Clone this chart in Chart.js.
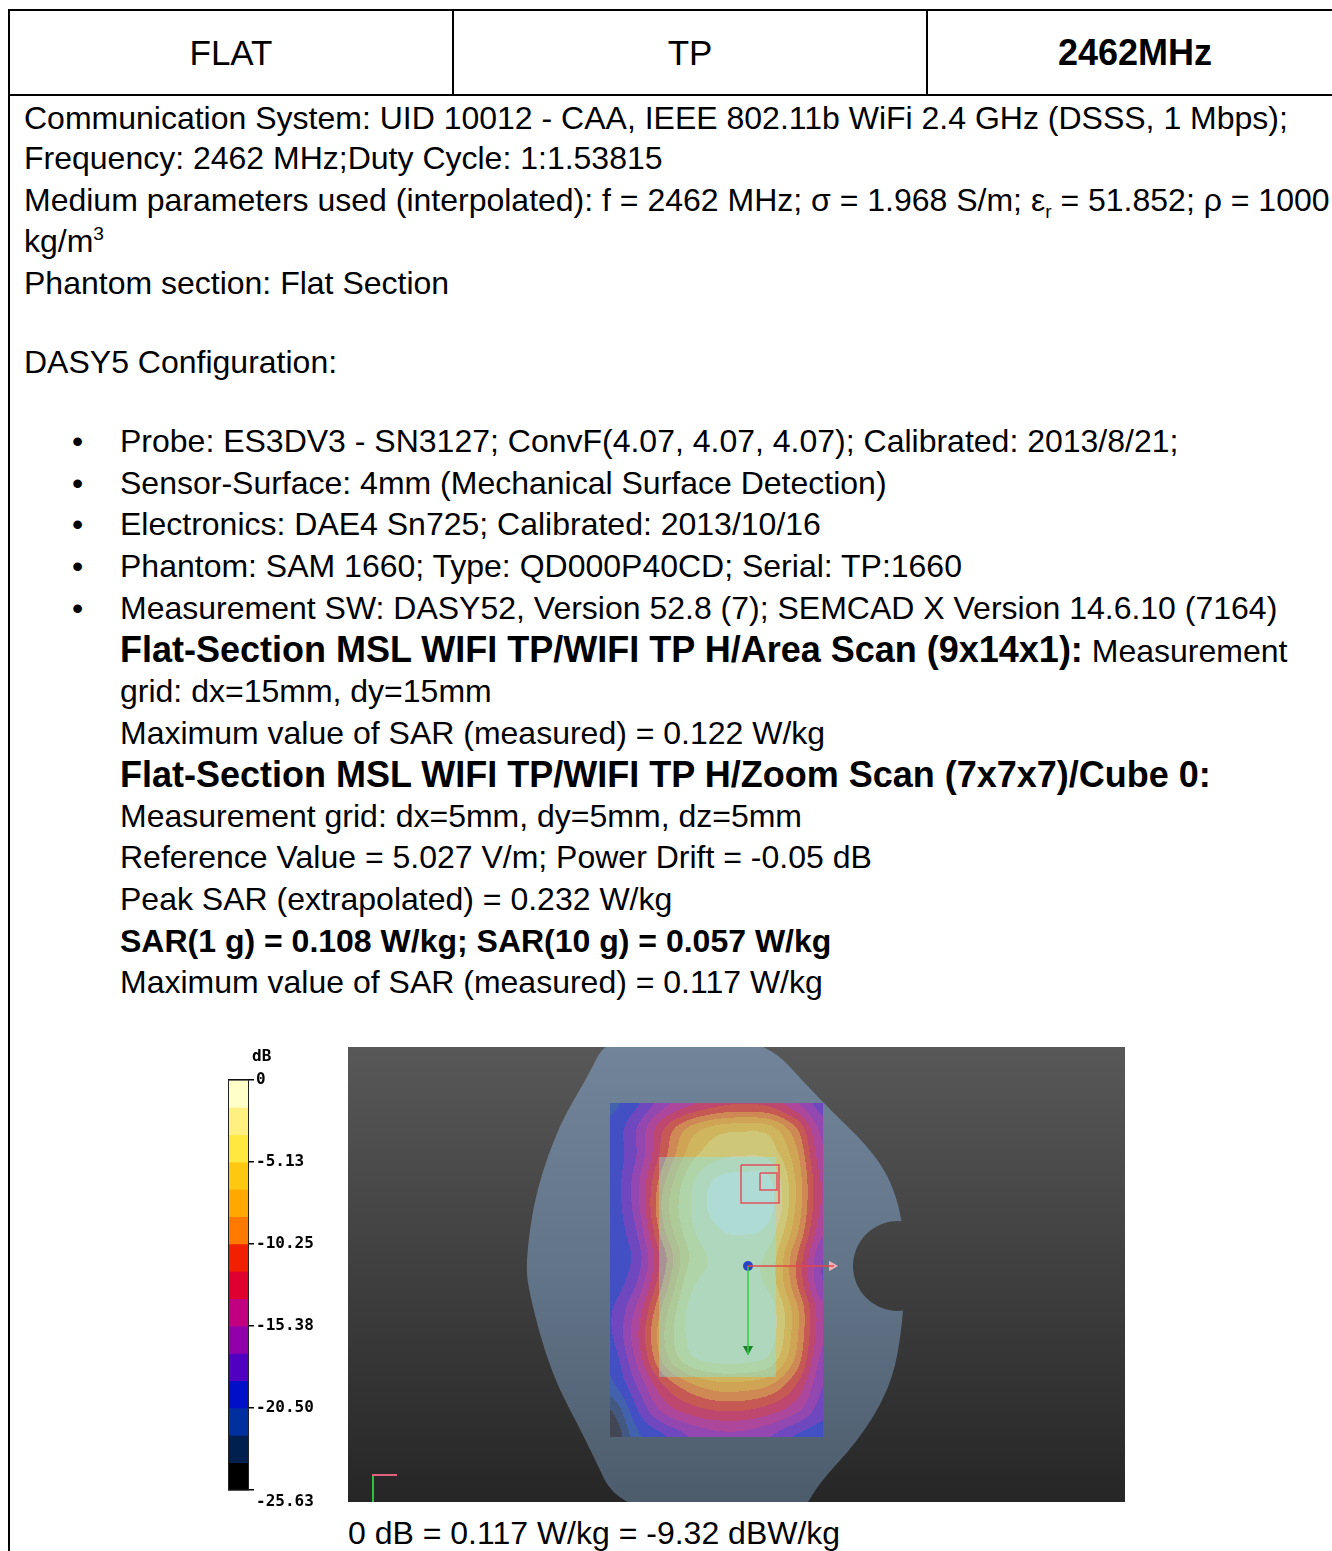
<!DOCTYPE html>
<html>
<head>
<meta charset="utf-8">
<script src="https://cdn.jsdelivr.net/npm/chart.js@4.4.0/dist/chart.umd.min.js"></script>
<style>
body { margin:0; background:#fff; width:1332px; height:1551px; overflow:hidden; position:relative; font-family:"Liberation Sans", Arial, sans-serif; color:#000; }
.ln { position:absolute; white-space:nowrap; font-size:32px; line-height:42px; }
.b { font-weight:bold; }
.big { font-size:36px; }
.rule { position:absolute; background:#000; }
.hd { position:absolute; top:10px; height:85px; line-height:85px; text-align:center; font-size:35px; }
sub, sup { font-size:60%; line-height:0; }
#scaleBox { position:absolute; left:218px; top:1040px; width:110px; height:475px; }
#scanBox { position:absolute; left:348px; top:1047px; width:777px; height:455px; }
</style>
</head>
<body>
<!-- table frame -->
<div class="rule" style="left:8px;top:9px;width:1324px;height:2px"></div>
<div class="rule" style="left:8px;top:94px;width:1324px;height:2px"></div>
<div class="rule" style="left:8px;top:9px;width:2px;height:1542px"></div>
<div class="rule" style="left:452px;top:9px;width:2px;height:86px"></div>
<div class="rule" style="left:926px;top:9px;width:2px;height:86px"></div>

<div class="hd" style="left:10px;width:442px">FLAT</div>
<div class="hd" style="left:454px;width:472px">TP</div>
<div class="hd b" style="left:928px;width:414px;font-size:36px">2462MHz</div>

<div class="ln" style="left:24px;top:97px">Communication System: UID 10012 - CAA, IEEE 802.11b WiFi 2.4 GHz (DSSS, 1 Mbps);</div>
<div class="ln" style="left:24px;top:137px">Frequency: 2462 MHz;Duty Cycle: 1:1.53815</div>
<div class="ln" style="left:24px;top:179px">Medium parameters used (interpolated): f = 2462 MHz; σ = 1.968 S/m; ε<sub>r</sub> = 51.852; ρ = 1000</div>
<div class="ln" style="left:24px;top:220px">kg/m<sup>3</sup></div>
<div class="ln" style="left:24px;top:262px">Phantom section: Flat Section</div>
<div class="ln" style="left:24px;top:341px">DASY5 Configuration:</div>

<div class="ln" style="left:72px;top:420px">•</div>
<div class="ln" style="left:120px;top:420px">Probe: ES3DV3 - SN3127; ConvF(4.07, 4.07, 4.07); Calibrated: 2013/8/21;</div>
<div class="ln" style="left:72px;top:462px">•</div>
<div class="ln" style="left:120px;top:462px">Sensor-Surface: 4mm (Mechanical Surface Detection)</div>
<div class="ln" style="left:72px;top:503px">•</div>
<div class="ln" style="left:120px;top:503px">Electronics: DAE4 Sn725; Calibrated: 2013/10/16</div>
<div class="ln" style="left:72px;top:545px">•</div>
<div class="ln" style="left:120px;top:545px">Phantom: SAM 1660; Type: QD000P40CD; Serial: TP:1660</div>
<div class="ln" style="left:72px;top:587px">•</div>
<div class="ln" style="left:120px;top:587px">Measurement SW: DASY52, Version 52.8 (7); SEMCAD X Version 14.6.10 (7164)</div>

<div class="ln" style="left:120px;top:629px"><span class="b big">Flat-Section MSL WIFI TP/WIFI TP H/Area Scan (9x14x1):</span> Measurement</div>
<div class="ln" style="left:120px;top:670px">grid: dx=15mm, dy=15mm</div>
<div class="ln" style="left:120px;top:712px">Maximum value of SAR (measured) = 0.122 W/kg</div>
<div class="ln b big" style="left:120px;top:754px">Flat-Section MSL WIFI TP/WIFI TP H/Zoom Scan (7x7x7)/Cube 0:</div>
<div class="ln" style="left:120px;top:795px">Measurement grid: dx=5mm, dy=5mm, dz=5mm</div>
<div class="ln" style="left:120px;top:836px">Reference Value = 5.027 V/m; Power Drift = -0.05 dB</div>
<div class="ln" style="left:120px;top:878px">Peak SAR (extrapolated) = 0.232 W/kg</div>
<div class="ln b" style="left:120px;top:920px">SAR(1 g) = 0.108 W/kg; SAR(10 g) = 0.057 W/kg</div>
<div class="ln" style="left:120px;top:961px">Maximum value of SAR (measured) = 0.117 W/kg</div>

<div id="scaleBox"><canvas id="scaleChart"></canvas></div>
<div id="scanBox"><canvas id="scanChart"></canvas></div>

<div class="ln" style="left:348px;top:1512px">0 dB = 0.117 W/kg = -9.32 dBW/kg</div>

<script>
// colour scale (dB), top to bottom
var levelBounds = [0, -1.71, -3.42, -5.13, -6.83, -8.54, -10.25, -11.96, -13.67, -15.38, -17.09, -18.80, -20.50, -22.21, -23.92, -25.63];
var levelColors = ['#ffffc8', '#fff080', '#ffe840', '#ffc810', '#ffa800', '#ff7800', '#f02000', '#e00030',
                   '#c00080', '#9000a8', '#5000c0', '#0010c8', '#0030a0', '#002050', '#000000'];
var tickValues = [0, -5.13, -10.25, -15.38, -20.50, -25.63];
var tickLabels = ['0', '-5.13', '-10.25', '-15.38', '-20.50', '-25.63'];

// area scan 9 x 14 (dB, rows top to bottom)
var sarGrid = [
  [-21, -19, -16, -14, -12.5, -12, -12.5, -15, -18],
  [-20, -17, -12,  -8,  -6, -5.5,  -6, -10, -16],
  [-20, -17, -11,  -6,  -4, -3.5,  -4,  -8, -15],
  [-20, -16,  -9,  -4, -1.5, -1, -1.5,  -7, -14],
  [-20, -16,  -8, -3.5, -1,   0,  -1,  -7, -14],
  [-20, -17,  -9,  -4,  -2, -1.5, -2.5, -8, -15],
  [-20, -18, -11,  -5,  -3,  -3,  -4, -10, -17],
  [-20, -17, -10,  -4,  -3,  -3,  -4, -10, -17],
  [-19, -15,  -8,  -3,  -2,  -2, -2.5, -8, -15],
  [-19, -14,  -7,  -3,  -2,  -2, -2.5, -8, -15],
  [-20, -15,  -8,  -4,  -3,  -3,  -4,  -9, -16],
  [-21, -17, -12,  -9, -7.5, -7.5, -8.5, -12, -17],
  [-24, -19, -15, -13, -12, -12, -13, -15, -18],
  [-26, -21, -19, -17, -16, -16, -17, -19, -20]
];

// scene pieces, in picture units (0..777 x 0..455)
var scanArea = { left: 262, right: 475, top: 56, bottom: 390 };
var deviceArea = { left: 311, right: 428, top: 110, bottom: 330 };
var phantomOutline = [[262,-15],[410,-15],[472,53],[531,110],[553,160],[558,220],[553,293],[541,343],[511,393],
                      [470,437],[452,470],[274,470],[238,393],[203,327],[180,243],[178,210],[188,143],[212,76],[238,33]];
var phantomNotch = { x: 550, y: 219, r: 45 };
var zoomOuter = [{x:393,y:118},{x:431,y:118},{x:431,y:156},{x:393,y:156},{x:393,y:118}];
var zoomInner = [{x:412,y:126},{x:429,y:126},{x:429,y:143},{x:412,y:143},{x:412,y:126}];
var probePoint = [{x:400, y:219}];
var xArrow = [{x:400,y:219},{x:486,y:219}];
var yArrow = [{x:400,y:219},{x:400,y:308}];
var xHead = [{x:484, y:219}];
var yHead = [{x:400, y:302}];
var cornerX = [{x:24,y:428},{x:49,y:428}];
var cornerY = [{x:25,y:428},{x:25,y:455}];


function cr(p0, p1, p2, p3, t) {
    return 0.5 * ((2 * p1) + (-p0 + p2) * t + (2 * p0 - 5 * p1 + 4 * p2 - p3) * t * t + (-p0 + 3 * p1 - 3 * p2 + p3) * t * t * t);
}

function gridAt(r, c) {
    r = Math.max(0, Math.min(sarGrid.length - 1, r));
    c = Math.max(0, Math.min(sarGrid[0].length - 1, c));
    return sarGrid[r][c];
}

function sampleGrid(u, v) {
    var i = Math.floor(u), j = Math.floor(v);
    var tu = u - i, tv = v - j;
    var rows = [];
    for (var k = -1; k <= 2; k++) {
        rows.push(cr(gridAt(j + k, i - 1), gridAt(j + k, i), gridAt(j + k, i + 1), gridAt(j + k, i + 2), tu));
    }
    return cr(rows[0], rows[1], rows[2], rows[3], tv);
}

function hexRgb(h) {
    return [parseInt(h.substr(1, 2), 16), parseInt(h.substr(3, 2), 16), parseInt(h.substr(5, 2), 16)];
}

var scanBackground = {
    id: 'scanBackground',
    beforeDatasetsDraw: function (chart) {
        var ctx = chart.ctx, a = chart.chartArea;
        var xs = chart.scales.x, ys = chart.scales.y;
        ctx.save();
        ctx.beginPath();
        ctx.rect(a.left, a.top, a.right - a.left, a.bottom - a.top);
        ctx.clip();

        var bg = ctx.createLinearGradient(0, a.top, 0, a.bottom);
        bg.addColorStop(0, '#585858');
        bg.addColorStop(1, '#262626');
        ctx.fillStyle = bg;
        ctx.fillRect(a.left, a.top, a.right - a.left, a.bottom - a.top);

        // phantom shell
        var pts = phantomOutline.map(function (p) { return [xs.getPixelForValue(p[0]), ys.getPixelForValue(p[1])]; });
        var n = pts.length;
        function mid(p, q) { return [(p[0] + q[0]) / 2, (p[1] + q[1]) / 2]; }
        var start = mid(pts[n - 1], pts[0]);
        ctx.beginPath();
        ctx.moveTo(start[0], start[1]);
        for (var i = 0; i < n; i++) {
            var m = mid(pts[i], pts[(i + 1) % n]);
            ctx.quadraticCurveTo(pts[i][0], pts[i][1], m[0], m[1]);
        }
        ctx.closePath();
        var pg = ctx.createLinearGradient(0, a.top, 0, a.bottom);
        pg.addColorStop(0, '#72849a');
        pg.addColorStop(0.5, '#627488');
        pg.addColorStop(1, '#4c5c6c');
        ctx.fillStyle = pg;
        ctx.fill();

        var nx = xs.getPixelForValue(phantomNotch.x), ny = ys.getPixelForValue(phantomNotch.y);
        var nr = xs.getPixelForValue(phantomNotch.x + phantomNotch.r) - nx;
        ctx.beginPath();
        ctx.arc(nx, ny, nr, 0, Math.PI * 2);
        ctx.fillStyle = bg;
        ctx.fill();

        // SAR distribution, shaded over a light base
        var l = Math.round(xs.getPixelForValue(scanArea.left)), r = Math.round(xs.getPixelForValue(scanArea.right));
        var t = Math.round(ys.getPixelForValue(scanArea.top)), b = Math.round(ys.getPixelForValue(scanArea.bottom));
        var w = r - l, h = b - t;
        var off = document.createElement('canvas');
        off.width = w; off.height = h;
        var octx = off.getContext('2d');
        var img = octx.createImageData(w, h);
        var rgb = levelColors.map(hexRgb);
        var cols = sarGrid[0].length - 1, rowsN = sarGrid.length - 1;
        for (var py = 0; py < h; py++) {
            for (var px = 0; px < w; px++) {
                var val = sampleGrid(px / (w - 1) * cols, py / (h - 1) * rowsN);
                var k = 0;
                while (k < levelColors.length - 1 && val < levelBounds[k + 1]) k++;
                var o = (py * w + px) * 4;
                img.data[o] = rgb[k][0];
                img.data[o + 1] = rgb[k][1];
                img.data[o + 2] = rgb[k][2];
                img.data[o + 3] = 255;
            }
        }
        octx.putImageData(img, 0, 0);
        ctx.fillStyle = 'rgb(150,160,190)';
        ctx.fillRect(l, t, w, h);
        ctx.globalAlpha = 0.55;
        ctx.drawImage(off, l, t);
        ctx.globalAlpha = 1;

        // device outline
        var dl = xs.getPixelForValue(deviceArea.left), dr = xs.getPixelForValue(deviceArea.right);
        var dt = ys.getPixelForValue(deviceArea.top), db = ys.getPixelForValue(deviceArea.bottom);
        ctx.fillStyle = 'rgba(125,232,240,0.4)';
        ctx.fillRect(dl, dt, dr - dl, db - dt);
        ctx.restore();
    }
};

var scanChart = new Chart(document.getElementById('scanChart'), {
    type: 'scatter',
    data: {
        datasets: [
            { data: zoomOuter, showLine: true, borderColor: '#e2505e', borderWidth: 1.5, pointRadius: 0 },
            { data: zoomInner, showLine: true, borderColor: '#e2505e', borderWidth: 1.5, pointRadius: 0 },
            { data: xArrow, showLine: true, borderColor: '#e04848', borderWidth: 1.5, pointRadius: 0 },
            { data: yArrow, showLine: true, borderColor: '#30d040', borderWidth: 1.5, pointRadius: 0 },
            { data: xHead, pointStyle: 'triangle', rotation: 90, pointRadius: 6, backgroundColor: '#f0b0b8', borderWidth: 0 },
            { data: yHead, pointStyle: 'triangle', rotation: 180, pointRadius: 6, backgroundColor: '#208030', borderWidth: 0 },
            { data: probePoint, pointRadius: 5, backgroundColor: '#2a44c8', borderWidth: 0 },
            { data: cornerX, showLine: true, borderColor: '#e06080', borderWidth: 2, pointRadius: 0 },
            { data: cornerY, showLine: true, borderColor: '#30c040', borderWidth: 2, pointRadius: 0 }
        ]
    },
    options: {
        responsive: true,
        maintainAspectRatio: false,
        animation: false,
        layout: { padding: 0, autoPadding: false },
        plugins: { legend: { display: false }, tooltip: { enabled: false } },
        scales: {
            x: { type: 'linear', min: 0, max: 777, display: false },
            y: { type: 'linear', min: 0, max: 455, reverse: true, display: false }
        }
    },
    plugins: [scanBackground]
});


var scaleFrame = {
    id: 'scaleFrame',
    afterDraw: function (chart) {
        var ctx = chart.ctx, a = chart.chartArea;
        ctx.save();
        ctx.strokeStyle = '#222';
        ctx.lineWidth = 1;
        ctx.strokeRect(a.left + 0.5, a.top, a.right - a.left - 1, a.bottom - a.top);
        ctx.fillStyle = '#000';
        ctx.font = 'bold 16px "DejaVu Sans Mono"';
        ctx.textBaseline = 'middle';
        ctx.fillText('dB', a.right + 3, a.top - 23);
        ctx.restore();
    }
};

var scaleChart = new Chart(document.getElementById('scaleChart'), {
    type: 'bar',
    data: {
        labels: ['dB'],
        datasets: levelColors.map(function (c, i) {
            return {
                data: [[levelBounds[i + 1], levelBounds[i]]],
                backgroundColor: c,
                borderWidth: 0,
                barPercentage: 1,
                categoryPercentage: 1,
                grouped: false
            };
        })
    },
    options: {
        responsive: true,
        maintainAspectRatio: false,
        animation: false,
        layout: { padding: { left: 10, top: 40, bottom: 25, right: 0 } },
        plugins: { legend: { display: false }, tooltip: { enabled: false } },
        scales: {
            x: { display: false },
            y: {
                position: 'right',
                min: -25.63,
                max: 0,
                z: 1,
                afterBuildTicks: function (s) {
                    s.ticks = tickValues.map(function (v) { return { value: v }; });
                },
                afterFit: function (s) { s.width = 79; },
                grid: { color: '#000', lineWidth: 1.5, tickLength: 5, drawOnChartArea: true },
                border: { display: false },
                ticks: {
                    padding: 2,
                    color: '#000',
                    font: { family: 'DejaVu Sans Mono', weight: 'bold', size: 16, lineHeight: 1.5 },
                    callback: function (v, i) {
                        return i === tickLabels.length - 1 ? ['', tickLabels[i]] : tickLabels[i];
                    }
                }
            }
        }
    },
    plugins: [scaleFrame]
});
</script>
</body>
</html>
